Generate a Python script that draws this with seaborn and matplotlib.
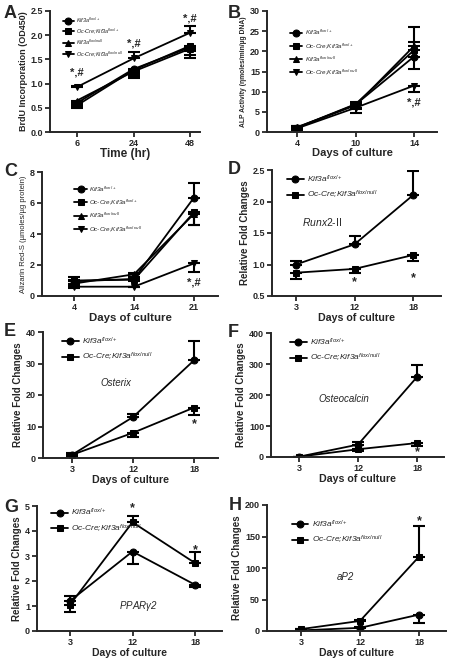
import numpy as np
import pandas as pd
import matplotlib
matplotlib.use("Agg")
import matplotlib.pyplot as plt
import seaborn as sns

sns.set_theme(style="ticks")
plt.rcParams['font.family'] = ['Liberation Sans', 'DejaVu Sans']
plt.rcParams['mathtext.fontset'] = 'custom'
plt.rcParams['mathtext.rm'] = 'Liberation Sans'
plt.rcParams['mathtext.it'] = 'Liberation Sans:italic'
plt.rcParams['mathtext.bf'] = 'Liberation Sans:bold'

# ---------------- data ----------------
lab4 = [r"Kif3a$^{flox/+}$", r"Oc-Cre;Kif3a$^{flox/+}$",
        r"Kif3a$^{flox/null}$", r"Oc-Cre;Kif3a$^{flox/null}$"]
lab2 = [r"Kif3a$^{flox/+}$", r"Oc-Cre;Kif3a$^{flox/null}$"]

A_x = ["6", "24", "48"]
A_mean = [[0.60, 1.30, 1.75], [0.55, 1.28, 1.78], [0.65, 1.25, 1.72], [0.93, 1.52, 2.05]]
A_err = [[-0.08, -0.18, -0.23], [-0.05, -0.08, -0.10], [-0.05, -0.10, -0.12], [0.02, 0.13, 0.14]]

B_x = ["4", "10", "14"]
B_mean = [[1.0, 6.8, 18.7], [1.1, 6.9, 20.3], [1.2, 6.6, 21.3], [0.9, 6.0, 11.5]]
B_err = [[-0.4, -1.2, -3.0], [0.4, 0.5, 2.0], [0.3, 0.5, 4.7], [-0.3, -1.3, -1.5]]

C_x = ["4", "14", "21"]
C_mean = [[0.95, 1.10, 6.35], [1.00, 1.05, 5.40], [0.80, 1.40, 5.30], [0.60, 0.60, 2.10]]
C_err = [[0.25, 0.10, 0.95], [-0.30, -0.10, -0.85], [0.15, 0.10, -0.70], [-0.10, -0.05, -0.55]]

D_x = ["3", "12", "18"]
D_mean = [[1.00, 1.32, 2.10], [0.87, 0.93, 1.15]]
D_err = [[0.06, 0.14, 0.39], [-0.10, -0.06, -0.10]]

E_x = ["3", "12", "18"]
E_mean = [[1.0, 13.0, 31.0], [1.0, 8.0, 16.0]]
E_err = [[0.5, 1.0, 6.2], [-0.5, -1.2, -2.5]]

F_x = ["3", "12", "18"]
F_mean = [[1.0, 40.0, 258.0], [1.0, 25.0, 45.0]]
F_err = [[0.5, 8.0, 40.0], [-0.5, -5.0, -10.0]]

G_x = ["3", "12", "18"]
G_mean = [[1.20, 3.18, 1.85], [1.05, 4.35, 2.72]]
G_err = [[0.22, -0.51, -0.07], [-0.30, 0.25, 0.43]]

H_x = ["3", "12", "18"]
H_mean = [[1.0, 5.0, 26.0], [3.0, 16.0, 118.0]]
H_err = [[0.5, 1.0, -14.0], [0.5, 1.0, 48.0]]

markers4 = ["o", "s", "^", "v"]
markers2 = ["o", "s"]

W, H = 449, 658
fig = plt.figure(figsize=(W / 100, H / 100), dpi=100)


def make_ax(yaxis, ticks, xend, ytop, ybot):
    ax = fig.add_axes([yaxis / W, 1 - ybot / H, (xend - yaxis) / W, (ybot - ytop) / H])
    unit = (ticks[2] - ticks[0]) / 2
    ax.set_xlim(-(ticks[0] - yaxis) / unit, 2 + (xend - ticks[2]) / unit)
    return ax


def panel(ax, letter, xcats, means, errs, labels, markers, ylim, yticks, ylabel,
          xlabel, ylfs, xlfs, lfs, leg_anchor, yl_bold=True, ms=5, letter_xy=None,
          lspace=0.5, ytl=None, xlpad=0.5):
    rows = []
    for lab, m in zip(labels, means):
        for i, v in enumerate(m):
            rows.append({"x": i, "y": v, "group": lab})
    df = pd.DataFrame(rows)
    sns.lineplot(data=df, x="x", y="y", hue="group", style="group",
                 hue_order=labels, style_order=labels,
                 palette=["black"] * len(labels), markers=dict(zip(labels, markers)),
                 dashes=False, markersize=ms, markeredgecolor="black",
                 linewidth=1.3, ax=ax, legend=True, errorbar=None)
    for m, e in zip(means, errs):
        e = np.array(e)
        lo = np.where(e < 0, -e, 0)
        hi = np.where(e > 0, e, 0)
        ax.errorbar(range(len(m)), m, yerr=[lo, hi], fmt="none", ecolor="black",
                    elinewidth=1.5, capsize=4, capthick=1.5)
    ax.set_ylim(*ylim)
    ax.set_yticks(yticks)
    ax.set_yticklabels(ytl if ytl is not None else [str(t) for t in yticks])
    ax.set_xticks(range(len(xcats)))
    ax.set_xticklabels(xcats)
    sns.despine(ax=ax)
    for s in ["left", "bottom"]:
        ax.spines[s].set_linewidth(1.4)
    ax.tick_params(axis="both", width=1.3, length=3.5, labelsize=6.5, pad=1.5)
    for t in ax.get_xticklabels() + ax.get_yticklabels():
        t.set_fontweight("bold")
    ax.set_ylabel(ylabel, fontsize=ylfs, fontweight="bold" if yl_bold else "normal", labelpad=2)
    ax.set_xlabel(xlabel, fontsize=xlfs, fontweight="bold", labelpad=xlpad)
    leg = ax.legend(loc="upper left", bbox_to_anchor=leg_anchor, frameon=False,
                    fontsize=lfs, handlelength=2.0, handletextpad=0.4,
                    labelspacing=lspace, borderaxespad=0)
    for t in leg.get_texts():
        t.set_fontstyle("italic")
    lx, ly = letter_xy
    fig.text(lx / W, 1 - ly / H, letter, fontsize=13, fontweight="bold", va="center", ha="left")
    return ax


# A
axA = make_ax(50, [77, 138, 190], 200, 11, 132)
panel(axA, "A", A_x, A_mean, A_err, lab4, markers4, (0, 2.5), [0.0, 0.5, 1.0, 1.5, 2.0, 2.5],
      "BrdU Incorporation (OD450)", "Time (hr)", 6.5, 8.5, 4, (0.07, 0.98), letter_xy=(4, 14),
      lspace=0.3, ytl=["0.0", "0.5", "1.0", "1.5", "2.0", "2.5"], xlpad=0)
for xi, yv in [(0, 1.22), (1, 1.82), (2, 2.35)]:
    axA.text(xi, yv, "*,#", ha="center", va="center", fontsize=8, fontweight="bold")

# B
axB = make_ax(267, [297, 357, 414], 437, 11, 132)
panel(axB, "B", B_x, B_mean, B_err, lab4, markers4, (0, 30), [0, 5, 10, 15, 20, 25, 30],
      "ALP Activity (ηmoles/min/µg DNA)", "Days of culture", 4.9, 8, 4.5, (0.12, 0.88),
      letter_xy=(228, 13), lspace=0.6, xlpad=0)
axB.text(2, 7.4, "*,#", ha="center", va="center", fontsize=8, fontweight="bold")

# C
axC = make_ax(42, [74, 133, 194], 218, 172, 296)
panel(axC, "C", C_x, C_mean, C_err, lab4, markers4, (0, 8), [0, 2, 4, 6, 8],
      "Alizarin Red-S (µmoles/µg protein)", "Days of culture", 5.5, 8.2, 4.5, (0.17, 0.92),
      yl_bold=False, letter_xy=(4, 171), lspace=0.6)
axC.text(2, 0.9, "*,#", ha="center", va="center", fontsize=8, fontweight="bold")

# D
axD = make_ax(272, [296, 355, 413], 441, 170, 296)
panel(axD, "D", D_x, D_mean, D_err, lab2, markers2, (0.5, 2.5), [0.5, 1.0, 1.5, 2.0, 2.5],
      "Relative Fold Changes", "Days of culture", 7, 7.7, 6, (0.07, 1.0), letter_xy=(228, 169))
axD.text(0.45, 1.68, r"$\mathit{Runx2}$-II", ha="center", va="center", fontsize=7.5)
axD.text(1, 0.72, "*", ha="center", va="center", fontsize=9, fontweight="bold")
axD.text(2, 0.79, "*", ha="center", va="center", fontsize=9, fontweight="bold")

# E
axE = make_ax(43, [72, 133, 194], 218, 332, 458)
panel(axE, "E", E_x, E_mean, E_err, lab2, markers2, (0, 40), [0, 10, 20, 30, 40],
      "Relative Fold Changes", "Days of culture", 7, 7.7, 6, (0.09, 1.0), letter_xy=(4, 332))
axE.text(0.72, 23.8, "Osterix", ha="center", va="center", fontsize=7, fontstyle="italic")
axE.text(2, 10.8, "*", ha="center", va="center", fontsize=9, fontweight="bold")

# F
axF = make_ax(271, [299, 357, 417], 444, 333, 457)
panel(axF, "F", F_x, F_mean, F_err, lab2, markers2, (0, 400), [0, 100, 200, 300, 400],
      "Relative Fold Changes", "Days of culture", 7, 7.7, 6, (0.09, 1.0), letter_xy=(228, 333))
axF.text(0.76, 187, "Osteocalcin", ha="center", va="center", fontsize=7, fontstyle="italic")
axF.text(2, 16, "*", ha="center", va="center", fontsize=9, fontweight="bold")

# G
axG = make_ax(37, [70, 133, 195], 222, 506, 631)
panel(axG, "G", G_x, G_mean, G_err, lab2, markers2, (0, 5), [0, 1, 2, 3, 4, 5],
      "Relative Fold Changes", "Days of culture", 7, 7.5, 6, (0.06, 1.02), letter_xy=(4, 507))
axG.text(1.1, 1.0, r"PPAR$\gamma$2", ha="center", va="center", fontsize=7, fontstyle="italic")
axG.text(1, 4.9, "*", ha="center", va="center", fontsize=9, fontweight="bold")
axG.text(2, 3.24, "*", ha="center", va="center", fontsize=9, fontweight="bold")

# H
axH = make_ax(267, [301, 361, 419], 446, 505, 631)
panel(axH, "H", H_x, H_mean, H_err, lab2, markers2, (0, 200), [0, 50, 100, 150, 200],
      "Relative Fold Changes", "Days of culture", 7, 7.5, 6, (0.12, 0.92), letter_xy=(229, 506))
axH.text(0.76, 86, "aP2", ha="center", va="center", fontsize=7, fontstyle="italic")
axH.text(2, 175, "*", ha="center", va="center", fontsize=9, fontweight="bold")

fig.savefig("out.png", dpi=100)
